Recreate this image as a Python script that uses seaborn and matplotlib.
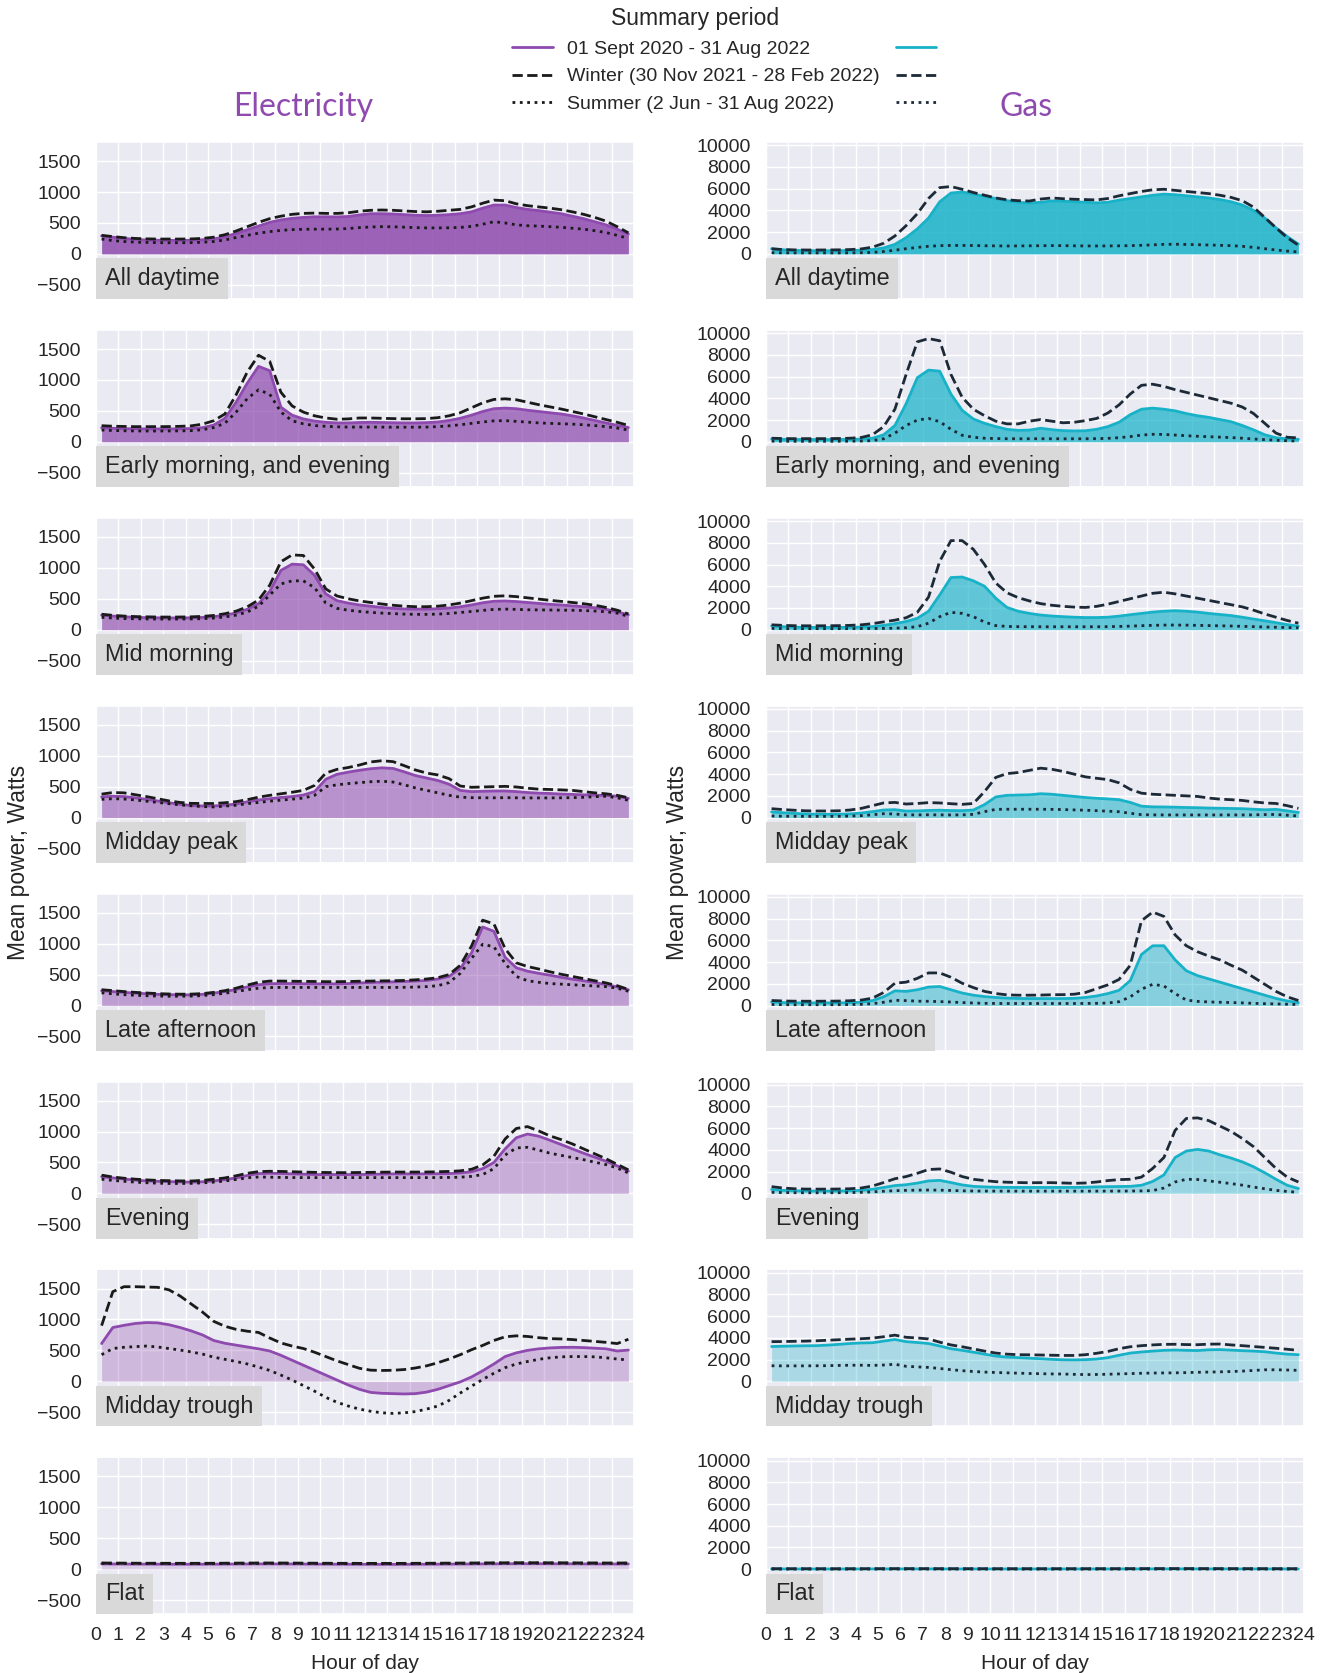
import numpy as np
import pandas as pd
import matplotlib
matplotlib.use("Agg")
import matplotlib.pyplot as plt
from matplotlib.lines import Line2D
from matplotlib.offsetbox import AnchoredText
import seaborn as sns

# Half-hourly profiles (x = midpoint of each half hour)
hours = np.arange(0.25, 24.0, 0.5)

profile_names = ["All daytime", "Early morning, and evening", "Mid morning", "Midday peak",
                 "Late afternoon", "Evening", "Midday trough", "Flat"]

# ---------------- Electricity (W) ----------------
elec_daytime_all = [290, 270, 250, 235, 225, 220, 218, 218, 220, 228, 240, 280, 330, 390, 450, 510,
                    550, 575, 590, 600, 600, 598, 605, 630, 650, 650, 645, 635, 625, 620, 625, 635,
                    650, 680, 740, 790, 790, 750, 720, 700, 675, 650, 610, 570, 520, 470, 400, 320]
elec_daytime_winter = [300, 280, 262, 250, 243, 240, 240, 240, 242, 250, 270, 310, 370, 440, 510, 570,
                       610, 640, 655, 660, 655, 655, 665, 690, 705, 710, 705, 695, 685, 680, 690, 705,
                       720, 760, 820, 870, 860, 810, 780, 760, 740, 715, 680, 640, 590, 530, 440, 340]
elec_daytime_summer = [240, 215, 200, 190, 185, 182, 180, 180, 182, 188, 200, 225, 265, 300, 335, 360,
                       380, 392, 398, 400, 400, 402, 410, 425, 435, 440, 438, 432, 425, 420, 420, 422,
                       428, 445, 480, 520, 500, 470, 455, 450, 440, 430, 415, 400, 375, 345, 300, 250]

elec_early_all = [225, 218, 212, 210, 208, 208, 208, 210, 215, 228, 270, 380, 640, 950, 1220, 1150,
                  560, 430, 370, 335, 315, 305, 305, 312, 315, 312, 308, 305, 305, 310, 320, 345,
                  380, 430, 490, 535, 545, 535, 510, 490, 470, 450, 420, 385, 345, 305, 265, 230]
elec_early_winter = [260, 252, 248, 245, 245, 245, 246, 250, 258, 285, 340, 450, 760, 1130, 1400, 1300,
                     800, 580, 480, 420, 385, 365, 370, 385, 385, 380, 375, 372, 372, 375, 390, 420,
                     470, 550, 630, 685, 695, 680, 640, 600, 565, 530, 490, 450, 405, 360, 315, 265]
elec_early_summer = [190, 182, 178, 175, 174, 174, 175, 176, 180, 195, 230, 300, 480, 700, 840, 770,
                     480, 340, 290, 262, 250, 242, 238, 238, 238, 237, 236, 236, 236, 238, 245, 258,
                     275, 298, 320, 338, 342, 330, 318, 305, 298, 292, 285, 275, 262, 245, 222, 190]

elec_midmorning_all = [235, 220, 208, 200, 195, 192, 190, 190, 192, 198, 210, 235, 270, 330, 420, 620,
                       960, 1060, 1050, 880, 580, 470, 430, 400, 380, 360, 345, 335, 332, 333, 338, 350,
                       370, 400, 435, 460, 465, 455, 440, 425, 410, 400, 385, 372, 355, 330, 290, 240]
elec_midmorning_winter = [250, 232, 220, 212, 208, 205, 204, 205, 208, 215, 230, 258, 300, 370, 480, 720,
                          1100, 1210, 1200, 980, 660, 545, 500, 465, 440, 415, 395, 380, 372, 372, 380, 400,
                          430, 470, 510, 540, 548, 535, 515, 495, 475, 458, 440, 420, 395, 360, 315, 255]
elec_midmorning_summer = [200, 188, 180, 176, 174, 172, 172, 172, 174, 178, 188, 205, 235, 285, 380, 560,
                          740, 790, 790, 680, 430, 345, 315, 295, 280, 268, 260, 252, 248, 248, 252, 262,
                          278, 295, 312, 328, 333, 328, 322, 320, 318, 316, 314, 310, 302, 290, 268, 215]

elec_middaypeak_all = [335, 345, 340, 320, 295, 268, 240, 215, 195, 188, 188, 200, 220, 255, 285, 305,
                       325, 340, 365, 420, 620, 700, 735, 765, 790, 805, 795, 740, 680, 640, 600, 540,
                       440, 420, 425, 430, 430, 420, 405, 395, 390, 380, 375, 368, 362, 358, 345, 310]
elec_middaypeak_winter = [380, 405, 400, 370, 340, 305, 270, 245, 230, 228, 228, 240, 258, 290, 330, 360,
                          385, 410, 440, 520, 720, 780, 810, 850, 900, 920, 905, 840, 770, 720, 690, 630,
                          510, 490, 495, 500, 505, 495, 475, 460, 455, 448, 440, 420, 400, 385, 360, 320]
elec_middaypeak_summer = [295, 305, 300, 285, 265, 245, 225, 205, 190, 178, 172, 185, 200, 225, 245, 265,
                          282, 298, 315, 360, 500, 530, 550, 565, 580, 588, 575, 530, 480, 440, 400, 360,
                          330, 322, 320, 320, 322, 320, 318, 318, 318, 320, 322, 328, 338, 345, 320, 280]

elec_lateaft_all = [238, 225, 212, 200, 190, 180, 175, 172, 172, 180, 200, 225, 260, 300, 335, 352,
                    355, 355, 352, 350, 350, 350, 355, 365, 372, 378, 382, 388, 395, 405, 428, 470,
                    600, 850, 1270, 1200, 780, 610, 555, 520, 490, 455, 425, 400, 370, 340, 300, 255]
elec_lateaft_winter = [255, 240, 225, 212, 202, 192, 186, 183, 184, 192, 212, 240, 280, 330, 375, 395,
                       395, 392, 390, 388, 385, 385, 388, 392, 395, 398, 400, 405, 415, 428, 450, 500,
                       650, 960, 1380, 1320, 920, 690, 630, 590, 545, 505, 470, 435, 400, 365, 320, 260]
elec_lateaft_summer = [205, 188, 175, 165, 158, 152, 150, 150, 152, 160, 175, 198, 225, 255, 280, 290,
                       292, 292, 292, 292, 292, 292, 292, 292, 292, 292, 292, 294, 298, 305, 320, 370,
                       520, 760, 990, 950, 680, 470, 400, 375, 355, 345, 335, 325, 315, 305, 280, 230]

elec_evening_all = [270, 250, 232, 215, 202, 195, 190, 185, 182, 188, 202, 222, 250, 290, 320, 325,
                    322, 315, 310, 305, 305, 305, 305, 305, 308, 312, 315, 315, 315, 316, 318, 320,
                    330, 350, 400, 500, 720, 900, 960, 925, 860, 790, 720, 650, 585, 520, 445, 360]
elec_evening_winter = [295, 265, 245, 230, 218, 210, 205, 202, 200, 210, 228, 250, 285, 325, 352, 358,
                       355, 350, 345, 340, 338, 336, 336, 338, 340, 343, 345, 345, 345, 346, 350, 355,
                       365, 390, 460, 600, 880, 1050, 1080, 1010, 930, 870, 800, 720, 640, 560, 470, 380]
elec_evening_summer = [230, 210, 195, 182, 172, 165, 160, 160, 162, 170, 182, 200, 225, 252, 265, 262,
                       258, 256, 255, 255, 255, 255, 255, 255, 255, 255, 255, 255, 255, 255, 256, 258,
                       262, 275, 305, 400, 620, 735, 745, 700, 650, 615, 580, 545, 505, 465, 410, 330]

elec_trough_all = [610, 870, 905, 935, 950, 945, 915, 870, 815, 750, 660, 615, 585, 555, 525, 490,
                   420, 340, 260, 180, 100, 20, -60, -130, -180, -195, -200, -205, -200, -175, -130, -70,
                   -10, 70, 170, 280, 400, 460, 500, 525, 540, 548, 550, 545, 535, 525, 490, 505]
elec_trough_winter = [900, 1450, 1530, 1530, 1525, 1520, 1480, 1380, 1250, 1120, 970, 890, 840, 810, 790, 700,
                      620, 570, 530, 470, 400, 330, 270, 210, 180, 175, 178, 190, 215, 250, 300, 360,
                      430, 510, 580, 660, 720, 735, 725, 705, 690, 685, 675, 660, 645, 630, 610, 680]
elec_trough_summer = [430, 530, 550, 560, 570, 555, 530, 505, 475, 440, 390, 355, 320, 280, 230, 175,
                      100, 20, -70, -160, -260, -340, -400, -450, -485, -510, -520, -510, -490, -450, -400, -310,
                      -190, -80, 30, 130, 220, 280, 320, 355, 380, 395, 400, 400, 395, 380, 360, 345]

elec_flat_all = [85, 84, 83, 82, 82, 81, 80, 80, 80, 80, 81, 82, 83, 84, 85, 85,
                 85, 84, 83, 82, 81, 80, 80, 79, 79, 78, 78, 78, 79, 80, 81, 82,
                 83, 84, 85, 86, 87, 88, 88, 88, 87, 87, 86, 85, 85, 84, 84, 85]
elec_flat_winter = [100, 99, 98, 97, 96, 96, 95, 95, 95, 95, 96, 97, 98, 99, 100, 100,
                    100, 99, 98, 97, 96, 95, 95, 94, 94, 94, 94, 94, 95, 96, 97, 98,
                    99, 100, 101, 102, 103, 104, 104, 104, 103, 103, 102, 101, 101, 100, 100, 100]
elec_flat_summer = [95, 94, 93, 92, 92, 91, 90, 90, 90, 90, 91, 92, 93, 94, 95, 95,
                    95, 94, 93, 92, 91, 90, 90, 89, 89, 89, 89, 89, 90, 91, 92, 93,
                    94, 95, 96, 97, 98, 99, 99, 99, 98, 98, 97, 96, 96, 95, 95, 95]

# ---------------- Gas (W) ----------------
gas_daytime_all = [480, 380, 320, 300, 295, 295, 300, 310, 340, 400, 560, 880, 1500, 2300, 3300, 4800,
                   5600, 5700, 5500, 5300, 5100, 4900, 4750, 4680, 4750, 4880, 4850, 4800, 4750, 4700, 4750, 4950,
                   5100, 5250, 5400, 5500, 5450, 5350, 5250, 5150, 5000, 4800, 4500, 4000, 3300, 2400, 1600, 900]
gas_daytime_winter = [470, 400, 370, 360, 360, 365, 375, 400, 460, 620, 980, 1650, 2600, 3700, 5100, 6100,
                      6200, 5950, 5650, 5400, 5150, 4980, 4900, 4870, 5050, 5150, 5080, 5030, 5000, 4970, 5100, 5350,
                      5550, 5750, 5900, 5950, 5850, 5750, 5650, 5550, 5400, 5200, 4900, 4300, 3350, 2400, 1500, 800]
gas_daytime_summer = [110, 100, 95, 95, 95, 95, 95, 100, 110, 140, 220, 340, 480, 600, 700, 760,
                      780, 780, 770, 750, 740, 730, 735, 745, 755, 765, 760, 745, 735, 730, 735, 745,
                      760, 790, 830, 880, 890, 870, 850, 820, 790, 760, 700, 600, 480, 360, 260, 180]

gas_early_all = [260, 230, 215, 210, 210, 210, 215, 225, 250, 330, 650, 1500, 3500, 5900, 6600, 6500,
                 4400, 2900, 2100, 1700, 1400, 1150, 1050, 1080, 1250, 1120, 1030, 1000, 1020, 1150, 1400, 1800,
                 2500, 3000, 3100, 3000, 2850, 2600, 2400, 2250, 2050, 1850, 1500, 1100, 650, 380, 270, 230]
gas_early_winter = [330, 300, 290, 290, 290, 295, 305, 330, 400, 650, 1400, 3000, 6200, 9200, 9500, 9300,
                    6200, 4100, 3000, 2400, 1900, 1650, 1650, 1900, 2050, 1900, 1750, 1800, 1950, 2150, 2650, 3400,
                    4400, 5200, 5300, 5100, 4800, 4550, 4300, 4050, 3800, 3550, 3200, 2600, 1700, 800, 420, 360]
gas_early_summer = [60, 55, 50, 50, 50, 50, 55, 60, 75, 110, 280, 800, 1500, 2000, 2150, 1850,
                    1150, 600, 420, 330, 300, 285, 280, 280, 285, 280, 278, 278, 280, 290, 320, 380,
                    480, 620, 690, 680, 620, 560, 510, 470, 430, 390, 330, 260, 200, 150, 100, 70]

gas_midmorning_all = [350, 280, 230, 215, 210, 210, 215, 220, 240, 290, 400, 560, 760, 1050, 1700, 3200,
                      4800, 4850, 4500, 4000, 2900, 2050, 1700, 1500, 1350, 1260, 1200, 1150, 1120, 1120, 1150, 1250,
                      1380, 1500, 1620, 1700, 1750, 1700, 1620, 1500, 1400, 1300, 1150, 980, 820, 650, 470, 330]
gas_midmorning_winter = [450, 400, 370, 360, 360, 365, 375, 400, 450, 560, 720, 880, 1100, 1600, 3000, 6300,
                         8200, 8200, 7400, 6000, 4300, 3400, 2950, 2650, 2400, 2250, 2150, 2080, 2050, 2150, 2350, 2600,
                         2850, 3100, 3350, 3450, 3300, 3100, 2900, 2700, 2500, 2300, 2100, 1800, 1450, 1150, 850, 600]
gas_midmorning_summer = [120, 105, 100, 100, 100, 100, 100, 100, 105, 110, 120, 140, 180, 280, 600, 1200,
                         1600, 1500, 1200, 700, 380, 300, 280, 275, 272, 270, 270, 270, 270, 272, 280, 300,
                         330, 370, 400, 425, 430, 420, 400, 380, 360, 340, 310, 280, 250, 225, 200, 180]

gas_middaypeak_all = [520, 450, 390, 340, 310, 305, 310, 340, 420, 550, 700, 730, 600, 620, 660, 680,
                      650, 640, 700, 1200, 1900, 2050, 2080, 2100, 2200, 2150, 2050, 1950, 1850, 1780, 1720, 1650,
                      1400, 1050, 990, 980, 960, 930, 910, 880, 860, 840, 820, 770, 720, 760, 620, 480]
gas_middaypeak_winter = [820, 740, 680, 630, 610, 610, 630, 700, 850, 1100, 1350, 1400, 1250, 1300, 1380, 1350,
                         1280, 1220, 1300, 2400, 3700, 4050, 4150, 4350, 4550, 4450, 4250, 4000, 3750, 3620, 3500, 3200,
                         2600, 2250, 2150, 2100, 2050, 2000, 1950, 1800, 1700, 1650, 1580, 1450, 1350, 1300, 1100, 850]
gas_middaypeak_summer = [150, 130, 120, 115, 115, 115, 120, 140, 180, 260, 360, 330, 250, 250, 260, 250,
                         245, 250, 300, 550, 760, 770, 770, 770, 770, 760, 740, 710, 680, 640, 590, 540,
                         400, 270, 250, 245, 245, 245, 245, 245, 245, 245, 245, 250, 280, 290, 220, 150]

gas_lateaft_all = [320, 270, 250, 240, 240, 240, 245, 260, 300, 450, 800, 1350, 1300, 1450, 1700, 1750,
                   1450, 1150, 950, 820, 740, 680, 650, 640, 640, 640, 640, 660, 740, 880, 1100, 1400,
                   2300, 4700, 5500, 5500, 4200, 3200, 2750, 2450, 2150, 1850, 1550, 1250, 950, 650, 420, 260]
gas_lateaft_winter = [460, 420, 400, 395, 395, 400, 410, 440, 500, 680, 1200, 2050, 2150, 2500, 3000, 3000,
                      2600, 2050, 1650, 1300, 1100, 980, 950, 950, 960, 990, 1000, 1040, 1200, 1550, 1900, 2400,
                      3700, 7800, 8600, 8200, 6500, 5500, 4950, 4550, 4200, 3700, 3250, 2600, 1950, 1300, 800, 460]
gas_lateaft_summer = [90, 75, 70, 70, 70, 70, 75, 85, 110, 170, 300, 480, 450, 400, 390, 360,
                      320, 270, 230, 200, 190, 185, 185, 185, 185, 185, 185, 185, 190, 200, 230, 350,
                      800, 1500, 1950, 1800, 1100, 500, 380, 330, 300, 270, 240, 200, 170, 150, 120, 90]

gas_evening_all = [360, 280, 240, 220, 215, 215, 220, 240, 280, 380, 550, 720, 800, 950, 1150, 1200,
                   1000, 780, 650, 600, 570, 555, 550, 550, 550, 550, 550, 555, 570, 600, 620, 635,
                   650, 750, 1100, 1700, 3300, 3900, 4050, 3900, 3550, 3250, 2900, 2450, 1900, 1300, 750, 450]
gas_evening_winter = [620, 500, 430, 400, 395, 395, 405, 430, 500, 680, 1000, 1350, 1550, 1850, 2200, 2250,
                      1950, 1550, 1300, 1180, 1080, 1030, 1000, 980, 990, 990, 960, 930, 960, 1050, 1180, 1270,
                      1300, 1500, 2300, 3300, 5800, 6900, 6950, 6700, 6200, 5700, 5050, 4300, 3300, 2300, 1500, 1050]
gas_evening_summer = [100, 75, 65, 60, 60, 60, 65, 75, 100, 140, 200, 250, 280, 300, 310, 300,
                      270, 240, 220, 215, 210, 210, 210, 210, 210, 210, 210, 210, 210, 210, 212, 215,
                      220, 230, 260, 500, 1050, 1300, 1280, 1150, 1030, 900, 760, 580, 430, 280, 180, 100]

gas_trough_all = [3200, 3230, 3250, 3270, 3280, 3330, 3400, 3480, 3530, 3550, 3700, 3850, 3650, 3570, 3480, 3250,
                  3000, 2850, 2680, 2500, 2320, 2230, 2180, 2130, 2080, 2020, 1980, 1970, 1990, 2050, 2180, 2400,
                  2600, 2700, 2780, 2850, 2880, 2850, 2830, 2900, 2920, 2870, 2820, 2780, 2720, 2600, 2500, 2450]
gas_trough_winter = [3650, 3660, 3680, 3700, 3730, 3780, 3830, 3880, 3920, 3980, 4100, 4250, 4050, 3990, 3900, 3600,
                     3350, 3180, 2980, 2780, 2600, 2500, 2450, 2440, 2420, 2400, 2380, 2380, 2450, 2580, 2750, 3000,
                     3180, 3280, 3350, 3400, 3410, 3380, 3370, 3420, 3430, 3350, 3280, 3200, 3120, 3040, 2950, 2850]
gas_trough_summer = [1430, 1420, 1420, 1420, 1430, 1440, 1460, 1480, 1480, 1460, 1500, 1570, 1380, 1330, 1280, 1180,
                     1070, 980, 900, 850, 810, 780, 750, 720, 700, 680, 670, 640, 620, 630, 650, 680,
                     710, 740, 760, 770, 780, 800, 830, 850, 870, 900, 940, 1000, 1060, 1060, 1040, 1010]

gas_flat_all = [25, 24, 23, 22, 22, 22, 22, 23, 24, 25, 26, 27, 28, 28, 28, 27,
                26, 25, 25, 24, 24, 24, 24, 24, 24, 24, 24, 24, 24, 25, 25, 26,
                27, 28, 29, 30, 30, 30, 29, 29, 28, 28, 27, 27, 26, 26, 25, 25]
gas_flat_winter = [45, 44, 43, 42, 42, 42, 42, 43, 44, 46, 48, 50, 50, 50, 49, 48,
                   47, 46, 45, 44, 44, 44, 44, 44, 44, 44, 44, 44, 45, 46, 47, 48,
                   50, 52, 54, 55, 55, 55, 54, 53, 52, 51, 50, 49, 48, 47, 46, 45]
gas_flat_summer = [15, 14, 14, 14, 14, 14, 14, 14, 15, 15, 16, 16, 16, 16, 16, 16,
                   15, 15, 15, 15, 15, 15, 15, 15, 15, 15, 15, 15, 15, 15, 15, 15,
                   16, 16, 16, 17, 17, 17, 17, 17, 16, 16, 16, 16, 15, 15, 15, 15]

elec_rows = [
    (elec_daytime_all, elec_daytime_winter, elec_daytime_summer),
    (elec_early_all, elec_early_winter, elec_early_summer),
    (elec_midmorning_all, elec_midmorning_winter, elec_midmorning_summer),
    (elec_middaypeak_all, elec_middaypeak_winter, elec_middaypeak_summer),
    (elec_lateaft_all, elec_lateaft_winter, elec_lateaft_summer),
    (elec_evening_all, elec_evening_winter, elec_evening_summer),
    (elec_trough_all, elec_trough_winter, elec_trough_summer),
    (elec_flat_all, elec_flat_winter, elec_flat_summer),
]
gas_rows = [
    (gas_daytime_all, gas_daytime_winter, gas_daytime_summer),
    (gas_early_all, gas_early_winter, gas_early_summer),
    (gas_midmorning_all, gas_midmorning_winter, gas_midmorning_summer),
    (gas_middaypeak_all, gas_middaypeak_winter, gas_middaypeak_summer),
    (gas_lateaft_all, gas_lateaft_winter, gas_lateaft_summer),
    (gas_evening_all, gas_evening_winter, gas_evening_summer),
    (gas_trough_all, gas_trough_winter, gas_trough_summer),
    (gas_flat_all, gas_flat_winter, gas_flat_summer),
]

period_labels = ["01 Sept 2020 - 31 Aug 2022", "Winter (30 Nov 2021 - 28 Feb 2022)",
                 "Summer (2 Jun - 31 Aug 2022)"]

# Fill opacity for each profile row
row_alpha = [0.85, 0.72, 0.65, 0.55, 0.47, 0.38, 0.3, 0.2]

# ---------------- Styling ----------------
sns.set_theme(style="darkgrid")
plt.rcParams["font.family"] = ["Liberation Sans", "DejaVu Sans"]

PURPLE = "#8E4AAE"
TEAL = "#17B2C8"
ELEC_DARK = "#1a1a1a"
GAS_DARK = "#1c2a38"

W, H = 1331, 1673
fig = plt.figure(figsize=(W / 100, H / 100), dpi=100)
fig.patch.set_facecolor("white")

ax_h = 157
pitch = 187.9
top0 = 142
col_left = [96, 766]
ax_w = 538


def draw_panel(ax, series, color, dark, alpha, label, ylim, yticks, bottom_row):
    mean, winter, summer = series
    df = pd.DataFrame({"hour": hours, "mean": mean, "winter": winter, "summer": summer})
    ax.fill_between(df["hour"], 0, df["mean"], color=color, alpha=alpha, linewidth=0)
    sns.lineplot(data=df, x="hour", y="mean", ax=ax, color=color, linewidth=2.0)
    sns.lineplot(data=df, x="hour", y="winter", ax=ax, color=dark, linewidth=2.0, linestyle="--")
    sns.lineplot(data=df, x="hour", y="summer", ax=ax, color=dark, linewidth=2.0, linestyle=":")
    ax.set_xlim(0, 24)
    ax.set_ylim(*ylim)
    ax.set_xticks(range(25))
    ax.set_yticks(yticks)
    ax.set_ylabel("")
    ax.tick_params(axis="y", labelsize=14, pad=11, length=0)
    ax.tick_params(axis="x", labelsize=14, pad=9, length=0)
    if bottom_row:
        ax.set_xlabel("Hour of day", fontsize=15, labelpad=7)
    else:
        ax.set_xlabel("")
        ax.tick_params(axis="x", labelbottom=False)
    at = AnchoredText(label, loc="lower left", frameon=True, pad=0.38, borderpad=0.0,
                      prop=dict(size=16.8))
    at.patch.set_facecolor("#D9D9D9")
    at.patch.set_edgecolor("none")
    ax.add_artist(at)


for r in range(8):
    top_px = top0 + r * pitch
    bottom = 1 - (top_px + ax_h) / H
    ax_e = fig.add_axes([col_left[0] / W, bottom, ax_w / W, ax_h / H])
    ax_g = fig.add_axes([col_left[1] / W, bottom, ax_w / W, ax_h / H])
    draw_panel(ax_e, elec_rows[r], PURPLE, ELEC_DARK, row_alpha[r], profile_names[r],
               (-730, 1810), [-500, 0, 500, 1000, 1500], r == 7)
    draw_panel(ax_g, gas_rows[r], TEAL, GAS_DARK, row_alpha[r], profile_names[r],
               (-4150, 10300), [0, 2000, 4000, 6000, 8000, 10000], r == 7)

# Shared y-axis labels
mid_y = 1 - 862 / H
fig.text(19 / W, mid_y, "Mean power, Watts", rotation=90, ha="center", va="center", fontsize=16.5)
fig.text(677 / W, mid_y, "Mean power, Watts", rotation=90, ha="center", va="center", fontsize=16.5)

# Column titles
fig.text(303 / W, 1 - 107 / H, "Electricity", ha="center", va="center", fontsize=23,
         color=PURPLE, family=["Lato", "DejaVu Sans"])
fig.text(1026 / W, 1 - 107 / H, "Gas", ha="center", va="center", fontsize=23,
         color=PURPLE, family=["Lato", "DejaVu Sans"])

# Legend: electricity styles with labels on the left, gas styles on the right
handles = [
    Line2D([], [], color=PURPLE, lw=2.0),
    Line2D([], [], color=ELEC_DARK, lw=2.0, ls="--"),
    Line2D([], [], color=ELEC_DARK, lw=2.0, ls=":"),
    Line2D([], [], color=TEAL, lw=2.0),
    Line2D([], [], color=GAS_DARK, lw=2.0, ls="--"),
    Line2D([], [], color=GAS_DARK, lw=2.0, ls=":"),
]
labels = period_labels + ["", "", ""]
fig.legend(handles, labels, ncol=2, loc="upper left", bbox_to_anchor=(512 / W, 1 - 40 / H),
           frameon=False, fontsize=14, handlelength=2.1, handletextpad=0.75,
           columnspacing=0.8, labelspacing=0.52, borderpad=0, borderaxespad=0)
fig.text(695 / W, 1 - 18 / H, "Summary period", ha="center", va="center", fontsize=16.5)

fig.savefig("out.png", dpi=100)
